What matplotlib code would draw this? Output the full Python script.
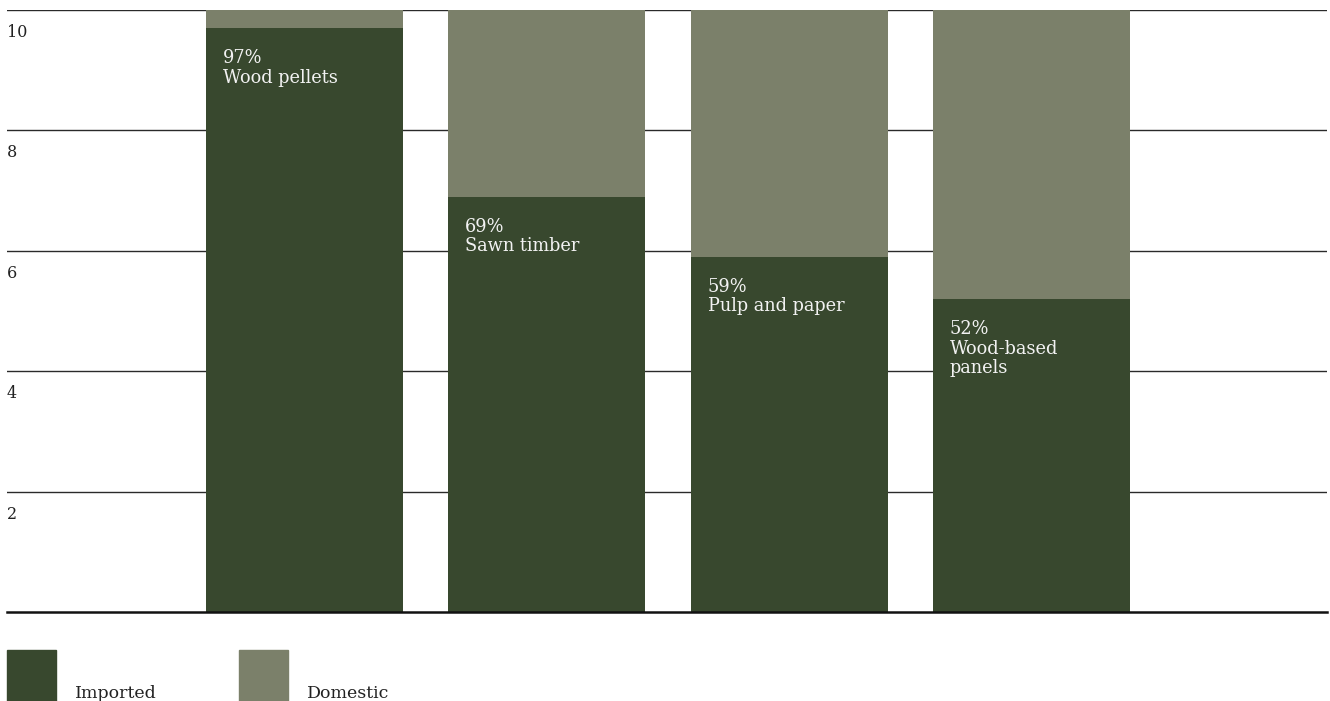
import matplotlib.pyplot as plt
from matplotlib.patches import Rectangle
from matplotlib.transforms import blended_transform_factory, offset_copy

plt.rcParams['font.family'] = ['DejaVu Serif']

products = ['Wood pellets', 'Sawn timber', 'Pulp and paper', 'Wood-based\npanels']
imported_pct = [97, 69, 59, 52]
total = 10
imported = [total * p / 100 for p in imported_pct]
domestic = [total - v for v in imported]
yticks = [2, 4, 6, 8, 10]

c_imp = '#38482e'
c_dom = '#7b806a'

W, H = 1330, 701
fig = plt.figure(figsize=(W / 100, H / 100), dpi=100)
ax = fig.add_axes([7 / W, 1 - 612 / H, 1320 / W, 602 / H])

x = list(range(len(products)))
bw = 0.813
ax.bar(x, imported, width=bw, color=c_imp, zorder=3)
ax.bar(x, domestic, bottom=imported, width=bw, color=c_dom, zorder=3)

ax.set_xlim(-1.228, 4.22)
ax.set_ylim(0, 10)

# gridlines under the bars, thicker baseline
for v in yticks:
    ax.axhline(v, color='#2a2a2a', lw=1.0, zorder=1)
ax.axhline(0, color='#111111', lw=1.8, zorder=4, clip_on=False)

for s in ax.spines.values():
    s.set_visible(False)
ax.set_xticks([])
ax.set_yticks([])

# y labels sit just under each gridline at the left edge
trans = blended_transform_factory(ax.transAxes, ax.transData)
for v in yticks:
    t = offset_copy(trans, fig=fig, x=0, y=-14, units='dots')
    ax.text(0, v, str(v), transform=t, ha='left', va='top',
            fontsize=11.5, color='#222222')

# labels inside the imported segment
for xi, val, pct, name in zip(x, imported, imported_pct, products):
    t = offset_copy(ax.transData, fig=fig, x=17, y=-21, units='dots')
    ax.text(xi - bw / 2, val, f'{pct}%\n{name}', transform=t,
            ha='left', va='top', fontsize=12.8, color='#f2f2f2',
            linespacing=1.12, zorder=5)

# legend
for x0, col, lab in [(7, c_imp, 'Imported'), (239, c_dom, 'Domestic')]:
    fig.add_artist(Rectangle((x0 / W, 0), 49 / W, 51 / H,
                             transform=fig.transFigure, color=col))
    fig.text((x0 + 68) / W, 3 / H, lab, ha='left', va='baseline',
             fontsize=12.5, color='#222222')

fig.savefig('out.png', dpi=100)
